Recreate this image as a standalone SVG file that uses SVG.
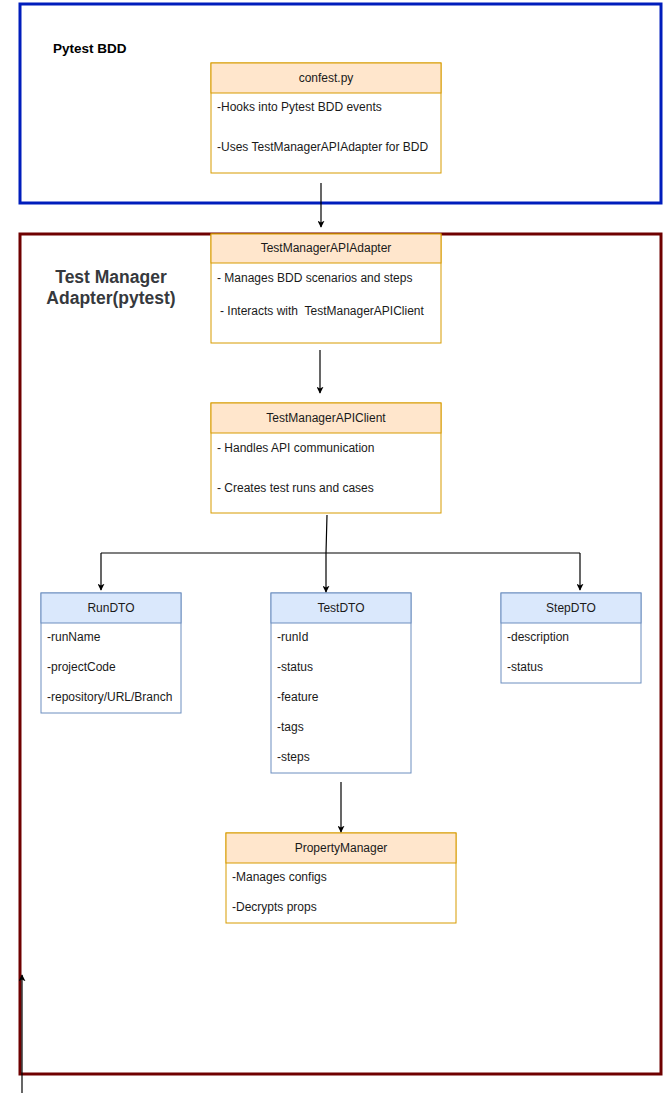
<svg xmlns="http://www.w3.org/2000/svg" width="664" height="1103" viewBox="0 0 664 1103">
<defs>
<marker id="arr" viewBox="0 0 10 10" refX="9" refY="5" markerWidth="7" markerHeight="7" orient="auto" markerUnits="userSpaceOnUse">
<path d="M0,0 L10,5 L0,10 L2.5,5 Z" fill="#000"/>
</marker>
<style>
text{font-family:"Liberation Sans",Arial,sans-serif;font-size:12px;fill:#1a1a1a}
.hdr{text-anchor:middle}
.orange{fill:#ffe6cc;stroke:#d79b00;stroke-width:1}
.blue{fill:#dae8fc;stroke:#6c8ebf;stroke-width:1}
.conn{fill:none;stroke:#000;stroke-width:1.2}
</style>
</defs>
<rect width="664" height="1103" fill="#fff"/>
<g id="pytest-bdd">
<rect x="20" y="4" width="641" height="199" fill="#fff" stroke="#001DBC" stroke-width="3"/>
<text x="53" y="53" style="font-weight:bold;font-size:13.5px;fill:#000">Pytest BDD</text>
</g>
<g id="adapter-container">
<rect x="20" y="234" width="641" height="840" fill="#fff" stroke="#6F0000" stroke-width="3"/>
<text x="111" y="283" class="hdr" style="font-weight:bold;font-size:17.5px;fill:#36393d">Test Manager</text>
<text x="111" y="304" class="hdr" style="font-weight:bold;font-size:17.5px;fill:#36393d">Adapter(pytest)</text>
</g>
<g id="confest">
<rect x="211" y="63" width="230" height="110" class="orange" style="fill:#fff"/>
<rect x="211" y="63" width="230" height="30" class="orange"/>
<text x="326" y="82" class="hdr">confest.py</text>
<text x="217" y="111">-Hooks into Pytest BDD events</text>
<text x="217" y="151">-Uses TestManagerAPIAdapter for BDD</text>
</g>
<g id="apiadapter">
<rect x="211" y="234" width="230" height="109" class="orange" style="fill:#fff"/>
<rect x="211" y="234" width="230" height="29" class="orange"/>
<text x="326" y="252" class="hdr">TestManagerAPIAdapter</text>
<text x="217" y="282">- Manages BDD scenarios and steps</text>
<text x="220" y="315" xml:space="preserve">- Interacts with  TestManagerAPIClient</text>
</g>
<g id="apiclient">
<rect x="211" y="403" width="230" height="110" class="orange" style="fill:#fff"/>
<rect x="211" y="403" width="230" height="30" class="orange"/>
<text x="326" y="422" class="hdr">TestManagerAPIClient</text>
<text x="217" y="452">- Handles API communication</text>
<text x="217" y="492">- Creates test runs and cases</text>
</g>
<g id="rundto">
<rect x="41" y="593" width="140" height="120" class="blue" style="fill:#fff"/>
<rect x="41" y="593" width="140" height="30" class="blue"/>
<text x="111" y="612" class="hdr">RunDTO</text>
<text x="47" y="641">-runName</text>
<text x="47" y="671">-projectCode</text>
<text x="47" y="701">-repository/URL/Branch</text>
</g>
<g id="testdto">
<rect x="271" y="593" width="140" height="180" class="blue" style="fill:#fff"/>
<rect x="271" y="593" width="140" height="30" class="blue"/>
<text x="341" y="612" class="hdr">TestDTO</text>
<text x="277" y="641">-runId</text>
<text x="277" y="671">-status</text>
<text x="277" y="701">-feature</text>
<text x="277" y="731">-tags</text>
<text x="277" y="761">-steps</text>
</g>
<g id="stepdto">
<rect x="501" y="593" width="140" height="90" class="blue" style="fill:#fff"/>
<rect x="501" y="593" width="140" height="30" class="blue"/>
<text x="571" y="612" class="hdr">StepDTO</text>
<text x="507" y="641">-description</text>
<text x="507" y="671">-status</text>
</g>
<g id="propertymanager">
<rect x="226" y="833" width="230" height="90" class="orange" style="fill:#fff"/>
<rect x="226" y="833" width="230" height="30" class="orange"/>
<text x="341" y="852" class="hdr">PropertyManager</text>
<text x="232" y="881">-Manages configs</text>
<text x="232" y="911">-Decrypts props</text>
</g>
<g id="connectors">
<line x1="321" y1="183" x2="321" y2="227" class="conn" marker-end="url(#arr)"/>
<line x1="320" y1="350" x2="320" y2="393" class="conn" marker-end="url(#arr)"/>
<polyline points="327,515 326,553 326,592" class="conn" marker-end="url(#arr)"/>
<polyline points="101,553 580,553" class="conn"/>
<line x1="101" y1="553" x2="101" y2="590" class="conn" marker-end="url(#arr)"/>
<line x1="580" y1="553" x2="580" y2="590" class="conn" marker-end="url(#arr)"/>
<line x1="341" y1="782" x2="341" y2="832" class="conn" marker-end="url(#arr)"/>
<line x1="22" y1="1093" x2="22" y2="975" class="conn" marker-end="url(#arr)"/>
</g>
</svg>
